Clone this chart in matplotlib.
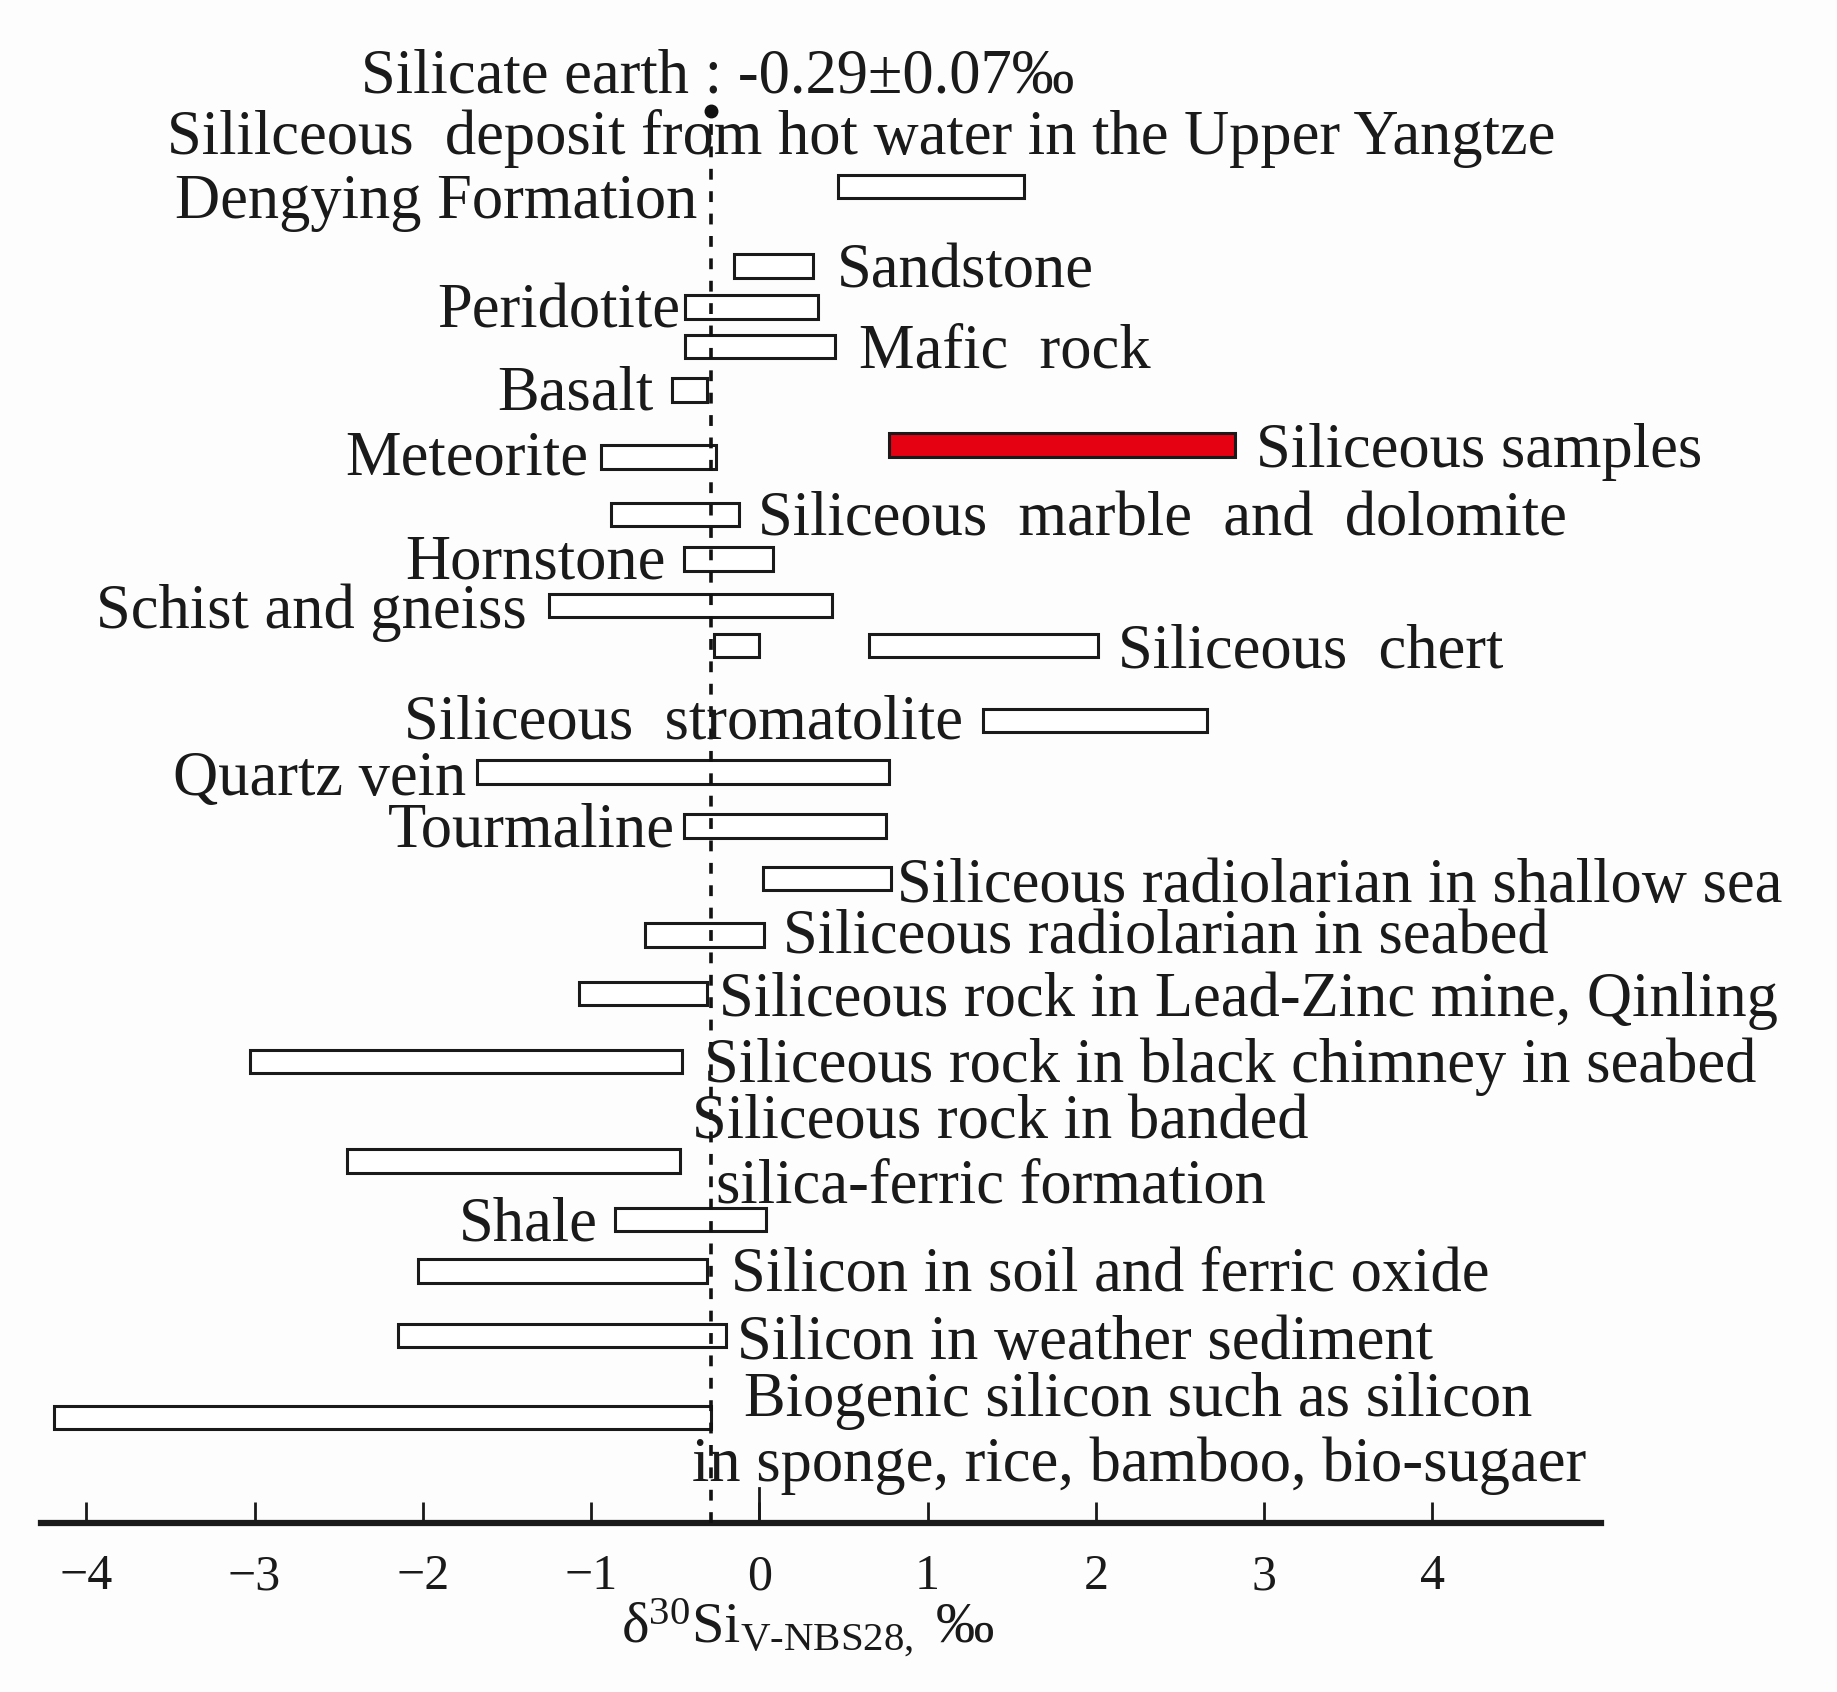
import matplotlib.pyplot as plt
from matplotlib.transforms import blended_transform_factory

plt.rcParams['font.family'] = ['Liberation Serif', 'DejaVu Serif']
plt.rcParams['mathtext.fontset'] = 'custom'
plt.rcParams['mathtext.rm'] = 'Liberation Serif'
plt.rcParams['mathtext.it'] = 'Liberation Serif:italic'

# delta30Si ranges (permil)
groups = ["Dengying Formation", "Sandstone", "Peridotite", "Mafic rock", "Basalt",
          "Siliceous samples", "Meteorite", "Siliceous marble and dolomite", "Hornstone",
          "Schist and gneiss", "Siliceous chert", "Siliceous chert (2)",
          "Siliceous stromatolite", "Quartz vein", "Tourmaline",
          "Siliceous radiolarian in shallow sea", "Siliceous radiolarian in seabed",
          "Lead-Zinc mine, Qinling", "Black chimney in seabed",
          "Banded silica-ferric formation", "Shale", "Soil and ferric oxide",
          "Weather sediment", "Biogenic silicon"]
lo = [0.47, -0.15, -0.44, -0.44, -0.52, 0.77, -0.94, -0.88, -0.45, -1.25, -0.27, 0.65,
      1.33, -1.68, -0.45, 0.02, -0.68, -1.07, -3.03, -2.45, -0.86, -2.03, -2.15, -4.19]
hi = [1.57, 0.32, 0.35, 0.45, -0.31, 2.83, -0.26, -0.12, 0.08, 0.43, 0.0, 2.01,
      2.66, 0.77, 0.75, 0.78, 0.03, -0.31, -0.46, -0.47, 0.04, -0.31, -0.20, -0.29]
highlight = "Siliceous samples"
silicate_earth = -0.29

# vertical slot of each bar (layout)
rows = [11.41, 10.73, 10.38, 10.04, 9.67, 9.20, 9.10, 8.61, 8.23, 7.83, 7.49, 7.49,
        6.85, 6.41, 5.95, 5.50, 5.02, 4.52, 3.94, 3.09, 2.59, 2.15, 1.60, 0.90]

# annotation texts: (text, x, y, ha)
labels = [
    ("Silicate earth : -0.29\u00b10.07\u2030", -2.37, 12.40, 'left'),
    ("Sililceous  deposit from hot water in the Upper Yangtze", -3.52, 11.88, 'left'),
    ("Dengying Formation", -0.37, 11.33, 'right'),
    ("Sandstone", 0.46, 10.73, 'left'),
    ("Peridotite", -0.47, 10.39, 'right'),
    ("Mafic  rock", 0.59, 10.05, 'left'),
    ("Basalt", -0.63, 9.69, 'right'),
    ("Siliceous samples", 2.95, 9.20, 'left'),
    ("Meteorite", -1.02, 9.14, 'right'),
    ("Siliceous  marble  and  dolomite", -0.01, 8.62, 'left'),
    ("Hornstone", -0.56, 8.25, 'right'),
    ("Schist and gneiss", -1.38, 7.83, 'right'),
    ("Siliceous  chert", 2.13, 7.49, 'left'),
    ("Siliceous  stromatolite", 1.21, 6.88, 'right'),
    ("Quartz vein", -1.74, 6.40, 'right'),
    ("Tourmaline", -0.50, 5.96, 'right'),
    ("Siliceous radiolarian in shallow sea", 0.82, 5.49, 'left'),
    ("Siliceous radiolarian in seabed", 0.14, 5.05, 'left'),
    ("Siliceous rock in Lead-Zinc mine, Qinling", -0.24, 4.52, 'left'),
    ("Siliceous rock in black chimney in seabed", -0.33, 3.95, 'left'),
    ("Siliceous rock in banded", -0.40, 3.47, 'left'),
    ("silica-ferric formation", -0.26, 2.92, 'left'),
    ("Shale", -0.96, 2.60, 'right'),
    ("Silicon in soil and ferric oxide", -0.17, 2.17, 'left'),
    ("Silicon in weather sediment", -0.13, 1.59, 'left'),
    ("Biogenic silicon such as silicon", -0.09, 1.10, 'left'),
    ("in sponge, rice, bamboo, bio-sugaer", -0.40, 0.55, 'left'),
]

xticks = [-4, -3, -2, -1, 0, 1, 2, 3, 4]

fig = plt.figure(figsize=(18.37, 16.92), dpi=100)
fig.patch.set_facecolor('#fdfdfd')
ax = fig.add_axes([0.0223, 0.0999, 0.849, 0.9001])
ax.set_facecolor('#fdfdfd')

for g, a, b, r in zip(groups, lo, hi, rows):
    fc = '#e50012' if g == highlight else 'white'
    ax.barh(r, b - a, left=a, height=0.2, color=fc, edgecolor='#1a1a1a',
            linewidth=2.2, zorder=3)

ax.plot([silicate_earth, silicate_earth], [0, 12.05], color='#111111',
        linestyle=(0, (3, 3.2)), linewidth=2.6, zorder=4)
ax.plot([silicate_earth], [12.05], 'o', color='#111111', markersize=9, zorder=5)

for txt, x, y, ha in labels:
    ax.text(x, y, txt, ha=ha, va='center_baseline', fontsize=45, color='#1a1a1a',
            zorder=6)

ax.set_xlim(-4.27, 5.0)
ax.set_ylim(0, 13.0)
for s in ['top', 'right', 'left']:
    ax.spines[s].set_visible(False)
ax.spines['bottom'].set_linewidth(4.5)
ax.spines['bottom'].set_color('#1a1a1a')
ax.set_yticks([])
ax.set_xticks(xticks)
ax.set_xticklabels([f"\u2212{abs(t)}" if t < 0 else str(t) for t in xticks])
ax.tick_params(axis='x', direction='in', length=15, width=2, pad=22,
               labelsize=36, colors='#1a1a1a')
ax.plot([0, 0], [0, 0.30], color='#1a1a1a', linewidth=2, zorder=4)

tr = blended_transform_factory(ax.transData, ax.transAxes)
ax.text(0.29, -0.069, "\u03b4$^{30}$Si$_{\\mathrm{V\\text{-}NBS28,}}$ \u2030",
        transform=tr, ha='center', va='center', fontsize=42, color='#1a1a1a')

fig.savefig('out.png', dpi=100, facecolor=fig.get_facecolor())
